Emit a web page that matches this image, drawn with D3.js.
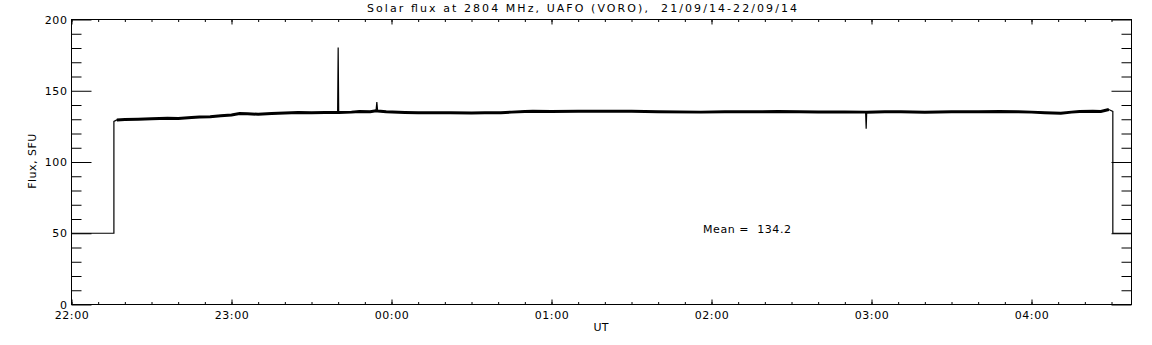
<!DOCTYPE html>
<html><head><meta charset="utf-8">
<script src="https://cdn.jsdelivr.net/npm/d3@7/dist/d3.min.js"></script>
<style>
html,body{margin:0;padding:0;background:#fff;}
svg text{font-family:"DejaVu Sans",sans-serif;font-size:11px;fill:#000;white-space:pre;}
</style></head>
<body><svg id="c" width="1152" height="345"></svg>
<script>
// ---- data (minutes after 22:00 UT, flux in SFU) ----
const timeMinutes = [0,15.9,15.9,17,20,25,30,36,40,45,48,52,56,60,63,66,70,75,80,85,90,95,99.8,100,100.2,105,108,112,114.2,114.5,114.8,118,125,130,135,142,150,155,161,165,170,173,180,190,202,210,220,236,245,255,265,273,280,290,297.8,298,298.2,305,311,320,330,340,348,355,360,365,371,375,378,383,386,389,390.5,390.5,397.5];
const fluxSFU = [50,50,128.5,129.5,129.8,130,130.3,130.7,130.5,131.2,131.5,131.8,132.5,133,134,133.8,133.5,134,134.3,134.8,134.5,134.7,134.8,180.4,134.8,135,135.5,135.2,136,142,135.8,135.2,134.8,134.5,134.6,134.5,134.4,134.6,134.5,135,135.5,135.7,135.5,135.6,135.7,135.6,135.3,135,135.2,135.2,135.5,135.2,135.1,135.1,135,123.3,135,135.3,135.2,135,135.3,135.2,135.4,135.2,135,134.6,134.2,135,135.4,135.6,135.5,136.8,135.5,50,50];
const xTickMinutes = [0,60,120,180,240,300,360];
const xTickLabels = ["22:00","23:00","00:00","01:00","02:00","03:00","04:00"];
const yTicks = [0,50,100,150,200];
const titleText = "Solar flux at 2804 MHz, UAFO (VORO),  21/09/14-22/09/14";
const meanText = "Mean =  134.2";
const xDomain = [0, 397.5];
const yDomain = [0, 200];

const svg = d3.select("#c");
const L = 71, R = 1131, T = 19, B = 304;
const x = d3.scaleLinear().domain(xDomain).range([L, R]);
const y = d3.scaleLinear().domain(yDomain).range([B, T]);
const minorX = d3.range(0, 397.5, 10);
const minorY = d3.range(0, 201, 10).filter(v => v % 50 !== 0);

const g = svg.append("g").attr("transform", "translate(0.5,0.5)");

function styleAxis(sel){
  sel.select(".domain").remove();
  sel.selectAll("line").attr("stroke","#000").attr("stroke-width",1);
  sel.selectAll("text").attr("font-family","DejaVu Sans").attr("font-size",11).attr("fill","#000");
}

g.append("g").attr("transform",`translate(0,${B})`)
  .call(d3.axisBottom(x).tickValues(xTickMinutes).tickFormat((d,i)=>xTickLabels[i]).tickSize(-5).tickPadding(7))
  .call(styleAxis).selectAll("text").attr("letter-spacing","0.6px");
g.append("g").attr("transform",`translate(0,${B})`)
  .call(d3.axisBottom(x).tickValues(minorX).tickFormat("").tickSize(-2.5)).call(styleAxis);
g.append("g").attr("transform",`translate(0,${T})`)
  .call(d3.axisTop(x).tickValues(xTickMinutes).tickFormat("").tickSize(-5)).call(styleAxis);
g.append("g").attr("transform",`translate(0,${T})`)
  .call(d3.axisTop(x).tickValues(minorX).tickFormat("").tickSize(-2.5)).call(styleAxis);
g.append("g").attr("transform",`translate(${L},0)`)
  .call(d3.axisLeft(y).tickValues(yTicks).tickFormat(d3.format("d")).tickSize(-20).tickPadding(4))
  .call(styleAxis).selectAll("text").attr("letter-spacing","0.6px");
g.append("g").attr("transform",`translate(${L},0)`)
  .call(d3.axisLeft(y).tickValues(minorY).tickFormat("").tickSize(-10)).call(styleAxis);
g.append("g").attr("transform",`translate(${R},0)`)
  .call(d3.axisRight(y).tickValues(yTicks).tickFormat("").tickSize(-20)).call(styleAxis);
g.append("g").attr("transform",`translate(${R},0)`)
  .call(d3.axisRight(y).tickValues(minorY).tickFormat("").tickSize(-10)).call(styleAxis);

g.append("rect").attr("x",L).attr("y",T).attr("width",R-L).attr("height",B-T)
  .attr("fill","none").attr("stroke","#000").attr("stroke-width",1);

const pts = timeMinutes.map((t,i)=>[t, fluxSFU[i]]);
const line = d3.line().x(d=>x(d[0])).y(d=>y(d[1]));
g.append("path").attr("d", line(pts)).attr("fill","none")
  .attr("stroke","#000").attr("stroke-width",1.2);
const plateau = pts.filter(d=> d[0]>16 && d[0]<390.5 && d[1]>128 && d[1]<137);
g.append("path").attr("d", line(plateau)).attr("fill","none")
  .attr("stroke","#000").attr("stroke-width",3);

svg.append("text").attr("x",582).attr("y",12).attr("text-anchor","middle")
  .attr("xml:space","preserve")
  .attr("textLength",430).attr("lengthAdjust","spacing").text(titleText);
svg.append("text").attr("x",747).attr("y",233).attr("text-anchor","middle")
  .attr("xml:space","preserve")
  .attr("textLength",88).attr("lengthAdjust","spacing").text(meanText);
svg.append("text").attr("x",601).attr("y",331).attr("text-anchor","middle").text("UT");
svg.append("text").attr("transform","translate(36,161) rotate(-90)").attr("text-anchor","middle")
  .attr("letter-spacing","0.5px").text("Flux, SFU");
</script></body></html>
